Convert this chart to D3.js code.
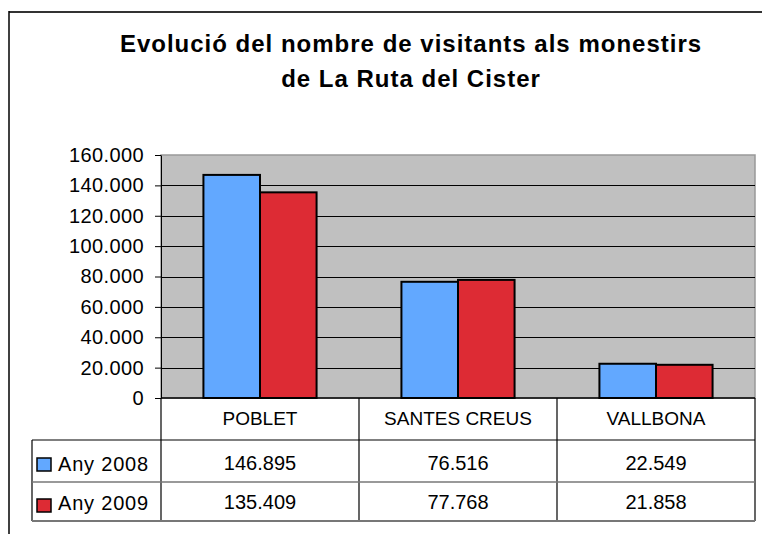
<!doctype html>
<html>
  <head>
    <meta charset="utf-8">
    <script src="https://cdn.jsdelivr.net/npm/d3@7/dist/d3.min.js"></script>
    <style>
      body { margin: 0; background: #fff; }
      text { font-family: "Liberation Sans", Arial, sans-serif; fill: #000; }
    </style>
  </head>
  <body>
    <div id="chart"></div>
  </body>
  <script>
    var titleLines = ["Evolució del nombre de visitants als monestirs", "de La Ruta del Cister"];
    var categories = ["POBLET", "SANTES CREUS", "VALLBONA"];
    var seriesNames = ["Any 2008", "Any 2009"];
    var values2008 = [146895, 76516, 22549];
    var values2009 = [135409, 77768, 21858];
    var seriesColours = ["#62a8ff", "#dd2b34"];
    var yTicks = [0, 20000, 40000, 60000, 80000, 100000, 120000, 140000, 160000];

    var width = 762,
      height = 534,
      plot = { left: 161, right: 755, top: 155, bottom: 398 },
      rowH = 42,
      tableBottom = 521;

    var locale = d3.formatLocale({ decimal: ",", thousands: ".", grouping: [3], currency: ["", ""] });
    var fmt = locale.format(",d");

    var series = seriesNames.map(function(name, i) {
      return { name: name, values: i === 0 ? values2008 : values2009, colour: seriesColours[i] };
    });

    var svg = d3.select("#chart")
                .append("svg")
                .attr("width", width)
                .attr("height", height);

    // outer frame (right side is cut off)
    svg.append("line").attr("x1", 9).attr("x2", width).attr("y1", 12).attr("y2", 12)
      .attr("stroke", "#333").attr("stroke-width", 2);
    svg.append("line").attr("x1", 9).attr("x2", 9).attr("y1", 11).attr("y2", height)
      .attr("stroke", "#000").attr("stroke-width", 1.5);

    // title
    svg.selectAll("text.title")
      .data(titleLines)
      .enter()
      .append("text")
      .attr("class", "title")
      .attr("x", 411)
      .attr("y", function(d, i) { return 52 + i * 35; })
      .attr("text-anchor", "middle")
      .style("font-weight", "bold")
      .style("font-size", "24px")
      .style("letter-spacing", "1px")
      .text(function(d) { return d; });

    var y = d3.scaleLinear().domain([0, 160000]).range([plot.bottom, plot.top]);
    var x = d3.scaleBand().domain(categories).range([plot.left, plot.right]);
    var xs = d3.scaleBand().domain(seriesNames).range([0, x.bandwidth()]).paddingOuter(0.75);

    // plot background
    svg.append("rect")
      .attr("x", plot.left).attr("y", plot.top)
      .attr("width", plot.right - plot.left).attr("height", plot.bottom - plot.top)
      .attr("fill", "#c0c0c0")
      .attr("stroke", "#999").attr("stroke-width", 1.5);

    // gridlines
    svg.append("g")
      .selectAll("line")
      .data(yTicks.slice(1, -1))
      .enter()
      .append("line")
      .attr("x1", plot.left).attr("x2", plot.right)
      .attr("y1", function(d) { return Math.round(y(d)) + 0.5; })
      .attr("y2", function(d) { return Math.round(y(d)) + 0.5; })
      .attr("stroke", "#000");

    // bars
    var groups = svg.append("g")
      .selectAll("g")
      .data(series)
      .enter()
      .append("g");

    groups.selectAll("rect")
      .data(function(s) {
        return s.values.map(function(v, i) { return { cat: categories[i], v: v, s: s }; });
      })
      .enter()
      .append("rect")
      .attr("x", function(d) { return x(d.cat) + xs(d.s.name); })
      .attr("y", function(d) { return y(d.v); })
      .attr("width", xs.bandwidth())
      .attr("height", function(d) { return y(0) - y(d.v); })
      .attr("fill", function(d) { return d.s.colour; })
      .attr("stroke", "#000")
      .attr("stroke-width", 2);

    // y axis
    var yAxis = d3.axisLeft(y).tickValues(yTicks).tickSize(6).tickSizeOuter(0).tickPadding(11).tickFormat(fmt);
    var gy = svg.append("g")
      .attr("transform", "translate(" + plot.left + ",0)")
      .call(yAxis);
    gy.select(".domain").attr("stroke", "#000");
    gy.selectAll(".tick line").attr("stroke", "#000");
    gy.selectAll(".tick text")
      .style("font-size", "20px")
      .style("letter-spacing", "0.4px")
      .style("font-family", "'Liberation Sans', Arial, sans-serif")
      .attr("fill", "#000");

    // zero line
    svg.append("line")
      .attr("x1", plot.left).attr("x2", plot.right)
      .attr("y1", y(0)).attr("y2", y(0))
      .attr("stroke", "#000").attr("stroke-width", 1.5);

    // data table
    var table = svg.append("g");
    var tTop = plot.bottom,
      legendLeft = 32;

    // vertical lines
    var vLines = [plot.left].concat(categories.map(function(c) { return x(c) + x.bandwidth(); }));
    table.selectAll("line.v")
      .data(vLines)
      .enter()
      .append("line")
      .attr("x1", function(d) { return d; }).attr("x2", function(d) { return d; })
      .attr("y1", tTop).attr("y2", tableBottom)
      .attr("stroke", "#000").attr("stroke-width", 1.2);

    table.append("line")
      .attr("x1", legendLeft).attr("x2", legendLeft)
      .attr("y1", tTop + rowH).attr("y2", tableBottom)
      .attr("stroke", "#000").attr("stroke-width", 1.2);

    // horizontal lines
    table.append("line")
      .attr("x1", legendLeft).attr("x2", plot.right)
      .attr("y1", tTop + rowH).attr("y2", tTop + rowH)
      .attr("stroke", "#000").attr("stroke-width", 1.2);
    table.append("line")
      .attr("x1", legendLeft).attr("x2", plot.right)
      .attr("y1", tTop + rowH * 2).attr("y2", tTop + rowH * 2)
      .attr("stroke", "#777").attr("stroke-width", 1.5);
    table.append("line")
      .attr("x1", legendLeft).attr("x2", plot.right)
      .attr("y1", tableBottom).attr("y2", tableBottom)
      .attr("stroke", "#777").attr("stroke-width", 2);

    // header
    table.selectAll("text.cat")
      .data(categories)
      .enter()
      .append("text")
      .attr("class", "cat")
      .attr("x", function(d) { return x(d) + x.bandwidth() / 2; })
      .attr("y", tTop + 27)
      .attr("text-anchor", "middle")
      .style("font-size", "19px")
      .text(function(d) { return d; });

    // rows
    var rows = table.selectAll("g.row")
      .data(series)
      .enter()
      .append("g")
      .attr("class", "row")
      .attr("transform", function(d, i) { return "translate(0," + (tTop + rowH * (i + 1)) + ")"; });

    rows.append("rect")
      .attr("x", 37).attr("y", function(d, i) { return i === 0 ? 18 : 17; })
      .attr("width", 14).attr("height", 13)
      .attr("fill", function(d) { return d.colour; })
      .attr("stroke", "#000").attr("stroke-width", 1.5);

    rows.append("text")
      .attr("x", 58).attr("y", function(d, i) { return i === 0 ? 31 : 28; })
      .style("font-size", "20px")
      .style("letter-spacing", "0.8px")
      .text(function(d) { return d.name; });

    rows.selectAll("text.val")
      .data(function(s) { return s.values; })
      .enter()
      .append("text")
      .attr("class", "val")
      .attr("x", function(d, i) { return x(categories[i]) + x.bandwidth() / 2; })
      .attr("y", function() { return d3.select(this.parentNode).datum() === series[0] ? 30 : 27; })
      .attr("text-anchor", "middle")
      .style("font-size", "20px")
      .text(function(d) { return fmt(d); });
  </script>
</html>
